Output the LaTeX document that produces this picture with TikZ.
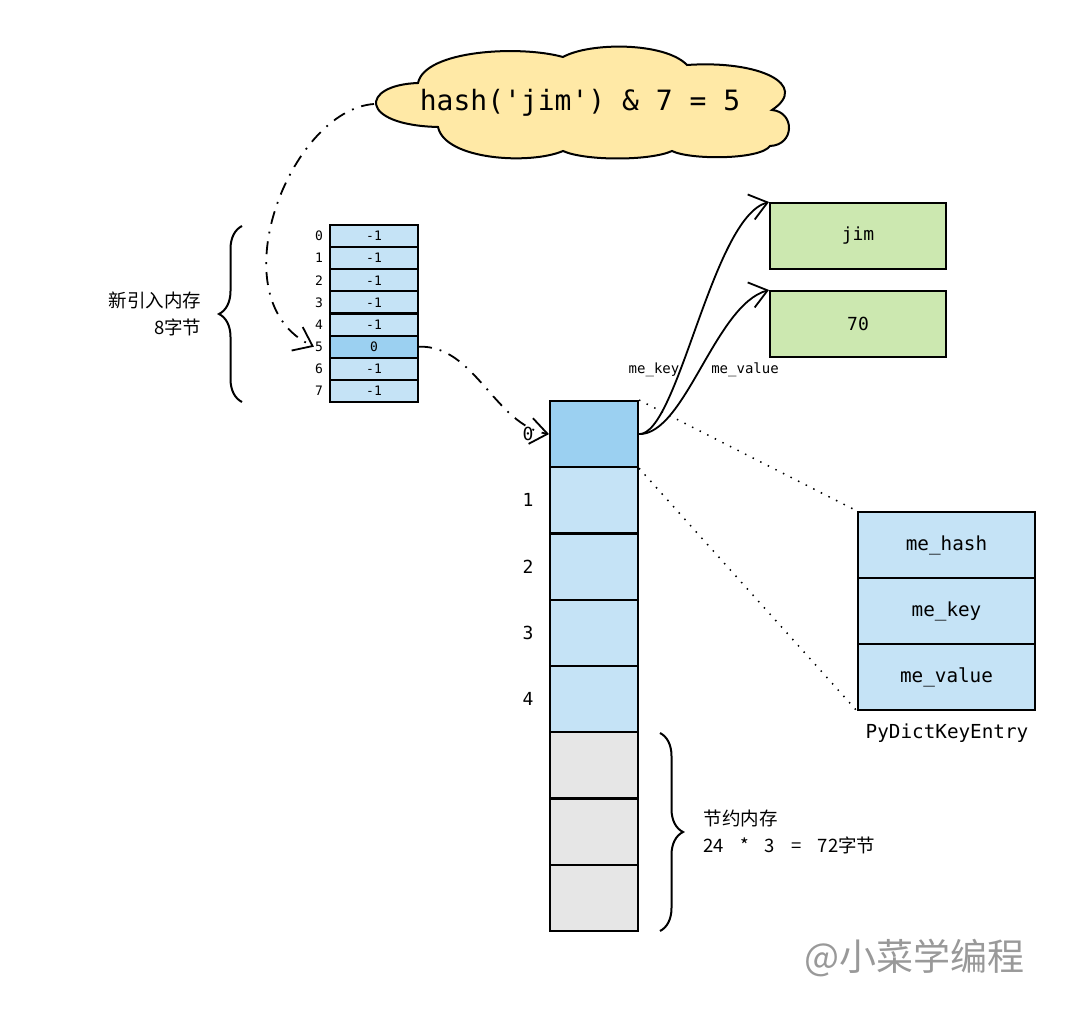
\documentclass[tikz,border=0pt]{standalone}
\usepackage{fontspec}
\setmonofont{DejaVu Sans Mono}
\newfontfamily\cjk{Noto Sans CJK SC}
\usetikzlibrary{arrows.meta}
\usetikzlibrary{decorations.pathreplacing}
\definecolor{cellblue}{HTML}{C5E3F6}
\definecolor{hotblue}{HTML}{9BD0F1}
\definecolor{freegray}{HTML}{E6E6E6}
\definecolor{objgreen}{HTML}{CCE8B0}
\definecolor{cloudyellow}{HTML}{FFE9A6}
\definecolor{markgray}{HTML}{999999}
\tikzset{
  idxcell/.style={draw, line width=2pt, fill=cellblue, minimum width=88pt, minimum height=22.1pt, inner sep=0pt, font=\ttfamily\fontsize{13}{13}\selectfont},
  idxnum/.style={font=\ttfamily\fontsize{13}{13}\selectfont, inner sep=1pt},
  entcell/.style={draw, line width=2pt, fill=cellblue, minimum width=88pt, minimum height=66.2pt, inner sep=0pt},
  entnum/.style={font=\ttfamily\fontsize{18}{18}\selectfont, inner sep=1pt},
  objbox/.style={draw, line width=2pt, fill=objgreen, minimum width=176pt, minimum height=66pt, font=\ttfamily\fontsize{18}{18}\selectfont},
  fieldbox/.style={draw, line width=2pt, fill=cellblue, minimum width=177pt, minimum height=66pt, font=\ttfamily\fontsize{19.3}{19.3}\selectfont},
  barb/.style={line width=1.8pt, -{Straight Barb[length=17pt,width=26pt,line width=1.8pt]}},
  dashdot/.style={barb, dash pattern=on 13pt off 8pt on 1.8pt off 8pt},
  dotlink/.style={line width=1.5pt, dash pattern=on 1.5pt off 7pt},
  bracer/.style={line width=2pt, decorate, decoration={brace, amplitude=23pt}},
  cjktext/.style={font=\cjk\fontsize{18.5}{27.5}\selectfont}
}
\begin{document}
\begin{tikzpicture}[x=1pt,y=-1pt]
	\useasboundingbox (0,0) rectangle (1080,1019);
	% the hash step (cloud)
	\draw[line width=2pt, fill=cloudyellow] (438,127) .. controls (358,125) and (360,85) .. (418,83)
		.. controls (425,50) and (520,45) .. (563,57) .. controls (590,42) and (665,42) .. (687,65)
		.. controls (760,60) and (810,85) .. (772,110) .. controls (795,112) and (795,145) .. (770,146)
		.. controls (760,160) and (690,160) .. (672,151) .. controls (650,161) and (585,161) .. (563,151)
		.. controls (530,165) and (445,160) .. cycle;
	\coordinate (tip) at (374,104);
	\node[font=\ttfamily\fontsize{28}{28}\selectfont] (hash) at (580,103) {hash('jim') \& 7 = 5};
	% index array (8 bytes)
	\foreach \i/\v/\c in {0/-1/cellblue, 1/-1/cellblue, 2/-1/cellblue, 3/-1/cellblue, 4/-1/cellblue, 5/0/hotblue, 6/-1/cellblue, 7/-1/cellblue} {
		\node[idxcell, fill=\c] (s\i) at (374, 236.06+22.125*\i) {\v};
		\node[idxnum] (l\i) at (319, 236.06+22.125*\i) {\i};
	}
	% entries array
	\foreach \i/\c in {0/hotblue, 1/cellblue, 2/cellblue, 3/cellblue, 4/cellblue, 5/freegray, 6/freegray, 7/freegray}
		\node[entcell, fill=\c] (b\i) at (594, 434.1+66.25*\i) {};
	\foreach \i in {0,...,4}
		\node[entnum] (n\i) at (528, 434.1+66.25*\i) {\i};
	% key and value objects
	\node[objbox] (key) at (858,236) {jim};
	\node[objbox] (val) at (858,324) {70};
	% PyDictKeyEntry
	\node[fieldbox] (e1) at (946.5,545) {me\_hash};
	\node[fieldbox] (e2) at (946.5,611) {me\_key};
	\node[fieldbox] (e3) at (946.5,677) {me\_value};
	\node[entnum, font=\ttfamily\fontsize{19.3}{19.3}\selectfont] (etype) at (947,733) {PyDictKeyEntry};
	% links
	\draw[dashdot] (tip) .. controls (290,110) and (215,300) .. (l5.west);
	\draw[dashdot] (s5.east) .. controls (475,345) and (495,425) .. (b0.west);
	\draw[barb] (b0.east) .. controls (678,435) and (712,218) .. (key.north west);
	\draw[barb] (b0.east) .. controls (685,435) and (715,305) .. (val.north west);
	\node[font=\ttfamily\fontsize{14}{14}\selectfont] (keylab) at (654,370) {me\_key};
	\node[font=\ttfamily\fontsize{14}{14}\selectfont] (vallab) at (745,370) {me\_value};
	\draw[dotlink] (b0.north east) -- (e1.north west);
	\draw[dotlink] (b0.south east) -- (e3.south west);
	% braces
	\draw[bracer] (242,402) -- (242,226);
	\node[cjktext, anchor=east, align=right] (newmem) at (205,314) {新引入内存\\8字节};
	\draw[bracer] (660,733) -- (660,931);
	\node[cjktext, anchor=west, align=left] (saved) at (700,832) {节约内存\\24\hspace{12pt} *\hspace{12pt} 3\hspace{12pt} =\hspace{12pt} 72字节};
	\node[text=markgray, font=\cjk\fontsize{37}{37}\selectfont] (mark) at (914,958) {@小菜学编程};
\end{tikzpicture}
\end{document}
